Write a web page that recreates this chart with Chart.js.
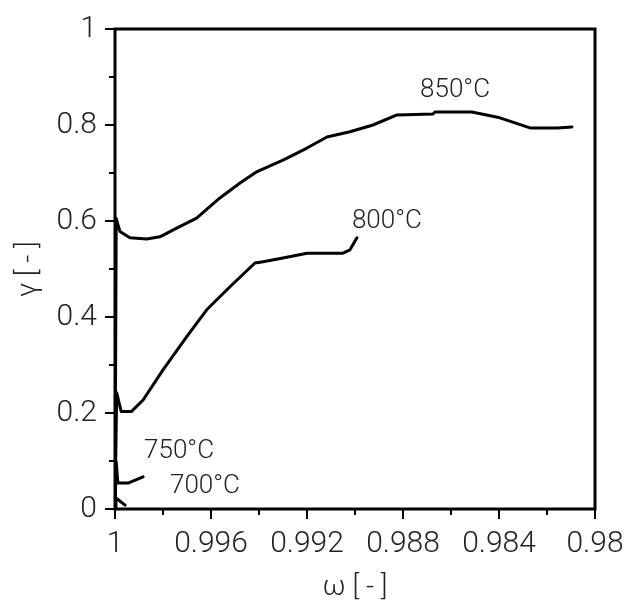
<!DOCTYPE html>
<html>
<head>
<meta charset="utf-8">
<script src="https://cdn.jsdelivr.net/npm/chart.js@4/dist/chart.umd.min.js"></script>
<style>
  html, body { margin: 0; padding: 0; background: #fff; }
  #wrap { width: 628px; height: 601px; }
</style>
</head>
<body>
<div id="wrap"><canvas id="c" width="628" height="601"></canvas></div>
<script>
// Conversion degree gamma versus omega at four temperatures
const omega850 = [1.0, 0.99995, 0.99979, 0.99938, 0.99868, 0.99813, 0.99743, 0.99660, 0.99563, 0.99479, 0.99408, 0.99300, 0.99200, 0.99117, 0.99021, 0.98925, 0.98825, 0.98675, 0.98667, 0.98513, 0.98396, 0.98271, 0.98158, 0.98096];
const gamma850 = [0.0, 0.605, 0.578, 0.565, 0.5625, 0.567, 0.585, 0.606, 0.648, 0.679, 0.703, 0.727, 0.752, 0.775, 0.786, 0.800, 0.821, 0.823, 0.827, 0.827, 0.815, 0.794, 0.794, 0.796];

const omega800 = [1.0, 0.99993, 0.99974, 0.99932, 0.99883, 0.99800, 0.99701, 0.99618, 0.99521, 0.99417, 0.99383, 0.99300, 0.99200, 0.99050, 0.99021, 0.98992];
const gamma800 = [0.0, 0.242, 0.203, 0.203, 0.227, 0.290, 0.359, 0.415, 0.463, 0.5125, 0.515, 0.523, 0.533, 0.533, 0.540, 0.565];

const omega750 = [1.0, 0.99995, 0.99988, 0.99946, 0.99883];
const gamma750 = [0.0, 0.098, 0.054, 0.054, 0.067];

const omega700 = [1.0, 0.99996, 0.99958];
const gamma700 = [0.0, 0.023, 0.008];

const curveNames = ['850°C', '800°C', '750°C', '700°C'];
const xTickLabels = ['1', '0.996', '0.992', '0.988', '0.984', '0.98'];
const yTickLabels = ['0', '0.2', '0.4', '0.6', '0.8', '1'];

const FONT = 'Roboto, "Liberation Sans", Arial, sans-serif';

function pts(xs, ys) { return xs.map((x, i) => ({ x: x, y: ys[i] })); }

function curve(label, xs, ys) {
  return {
    label: label,
    data: pts(xs, ys),
    showLine: true,
    borderColor: '#000',
    borderWidth: 3,
    pointRadius: 0,
    tension: 0,
    borderJoinStyle: 'round',
    borderCapStyle: 'round',
    fill: false
  };
}

// Frame around the plot plus outward major/minor tick marks
const framePlugin = {
  id: 'frameTicks',
  afterDraw(chart) {
    const { ctx, chartArea: a, scales } = chart;
    const xs = scales.x, ys = scales.y;
    ctx.save();
    ctx.strokeStyle = '#000';
    ctx.lineWidth = 3;
    ctx.strokeRect(a.left, a.top, a.right - a.left, a.bottom - a.top);
    ctx.lineWidth = 2;
    ctx.beginPath();
    xs.ticks.forEach((t, i) => {
      const px = Math.round(xs.getPixelForValue(t.value));
      const len = (i % 2 === 0) ? 10 : 6;
      ctx.moveTo(px, a.bottom);
      ctx.lineTo(px, a.bottom + len);
    });
    ys.ticks.forEach((t, i) => {
      const py = Math.round(ys.getPixelForValue(t.value));
      const len = (i % 2 === 0) ? 10 : 6;
      ctx.moveTo(a.left, py);
      ctx.lineTo(a.left - len, py);
    });
    ctx.stroke();
    ctx.restore();
  }
};

// Temperature captions placed in data coordinates
const captionPlugin = {
  id: 'captions',
  afterDatasetsDraw(chart, args, opts) {
    const { ctx, scales } = chart;
    ctx.save();
    ctx.fillStyle = '#222';
    ctx.font = opts.font;
    ctx.textAlign = 'center';
    ctx.textBaseline = 'middle';
    opts.items.forEach(it => {
      ctx.fillText(it.text, scales.x.getPixelForValue(it.x), scales.y.getPixelForValue(it.y));
    });
    ctx.restore();
  }
};

new Chart(document.getElementById('c'), {
  type: 'scatter',
  data: {
    datasets: [
      curve(curveNames[0], omega850, gamma850),
      curve(curveNames[1], omega800, gamma800),
      curve(curveNames[2], omega750, gamma750),
      curve(curveNames[3], omega700, gamma700)
    ]
  },
  options: {
    responsive: false,
    animation: false,
    layout: { padding: { top: 29, right: 33, left: 0, bottom: 0 } },
    plugins: {
      legend: { display: false },
      tooltip: { enabled: false },
      captions: {
        font: '300 26px ' + FONT,
        items: [
          { text: curveNames[0], x: 0.98583, y: 0.871 },
          { text: curveNames[1], x: 0.98867, y: 0.598 },
          { text: curveNames[2], x: 0.99733, y: 0.119 },
          { text: curveNames[3], x: 0.99625, y: 0.046 }
        ]
      }
    },
    scales: {
      x: {
        type: 'linear',
        reverse: true,
        min: 0.98,
        max: 1.0,
        afterFit(s) { s.height = 92; s.paddingLeft = 0; s.paddingRight = 0; },
        afterBuildTicks(s) {
          s.ticks = [];
          for (let i = 0; i <= 10; i++) s.ticks.push({ value: 1 - i * 0.002 });
        },
        grid: { display: false, drawTicks: false },
        border: { display: false },
        ticks: {
          autoSkip: false,
          maxRotation: 0,
          padding: 17,
          color: '#222',
          font: { family: FONT, size: 30, weight: 300 },
          callback(v, i) { return i % 2 === 0 ? xTickLabels[i / 2] : ''; }
        },
        title: {
          display: true,
          text: 'ω [ - ]',
          color: '#222',
          font: { family: FONT, size: 28, weight: 300, lineHeight: 0.9 },
          padding: { top: 0, bottom: 0 }
        }
      },
      y: {
        type: 'linear',
        min: 0,
        max: 1,
        afterFit(s) { s.width = 115; s.paddingTop = 0; s.paddingBottom = 0; },
        afterBuildTicks(s) {
          s.ticks = [];
          for (let i = 0; i <= 10; i++) s.ticks.push({ value: i * 0.1 });
        },
        grid: { display: false, drawTicks: false },
        border: { display: false },
        ticks: {
          autoSkip: false,
          padding: 18,
          color: '#222',
          font: { family: FONT, size: 30, weight: 300 },
          callback(v, i) { return i % 2 === 0 ? yTickLabels[i / 2] : ''; }
        },
        title: {
          display: true,
          text: 'γ [ - ]',
          color: '#222',
          font: { family: FONT, size: 28, weight: 300 },
          padding: { top: 12, bottom: 0 }
        }
      }
    }
  },
  plugins: [framePlugin, captionPlugin]
});
</script>
</body>
</html>
